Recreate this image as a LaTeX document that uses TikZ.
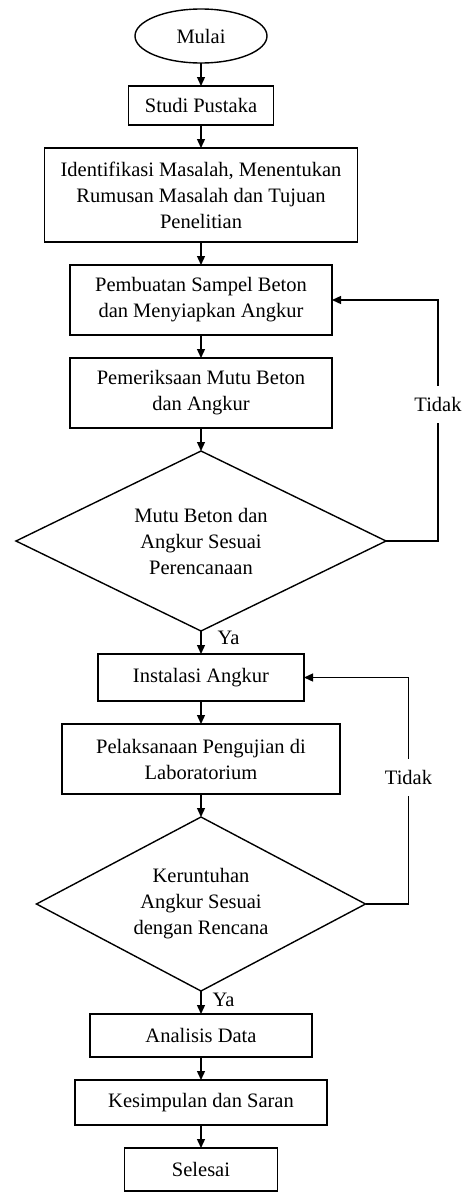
\documentclass[tikz,border=0pt]{standalone}
\usepackage{fontspec}
\setmainfont{Liberation Serif}
\usetikzlibrary{arrows.meta, positioning, shapes.geometric}

\begin{document}
\begin{tikzpicture}[
x=1pt, y=1pt,
node distance=23pt,
font=\fontsize{20.5}{26}\selectfont,
box/.style={draw, line width=1.4pt, align=center, inner sep=2pt, outer sep=0pt},
decision/.style={draw, diamond, aspect=2, line width=1.4pt, align=center, inner sep=0pt, outer sep=0pt},
startstop/.style={draw, ellipse, line width=1.4pt, inner sep=0pt, outer sep=0pt},
arrow/.style={-{Triangle[length=9pt, width=8pt]}, line width=1.3pt},
lbl/.style={fill=white, inner xsep=2pt, inner ysep=11pt}
]
\useasboundingbox (0,0) rectangle (461,-1192);

\node[startstop, minimum width=132, minimum height=54] (mulai) at (201,-36) {Mulai};
\node[box, below=of mulai, minimum width=145, minimum height=39] (studi) {Studi Pustaka};
\node[box, below=of studi, minimum width=313, minimum height=94] (identifikasi) {Identifikasi Masalah, Menentukan\\Rumusan Masalah dan Tujuan\\Penelitian};
\node[box, below=of identifikasi, minimum width=262, minimum height=70] (sampel) {Pembuatan Sampel Beton\\dan Menyiapkan Angkur};
\node[box, below=of sampel, minimum width=262, minimum height=70] (periksa) {Pemeriksaan Mutu Beton\\dan Angkur};
\node[decision, below=of periksa, minimum width=370, minimum height=180] (cekmutu) {Mutu Beton dan\\Angkur Sesuai\\Perencanaan};
\node[box, below=of cekmutu, minimum width=206, minimum height=47] (instalasi) {Instalasi Angkur};
\node[box, below=of instalasi, minimum width=278, minimum height=70] (uji) {Pelaksanaan Pengujian di\\Laboratorium};
\node[decision, below=of uji, minimum width=329, minimum height=174] (cekruntuh) {Keruntuhan\\Angkur Sesuai\\dengan Rencana};
\node[box, below=of cekruntuh, minimum width=222, minimum height=43] (analisis) {Analisis Data};
\node[box, below=of analisis, minimum width=252, minimum height=45] (kesimpulan) {Kesimpulan dan Saran};
\node[box, below=of kesimpulan, minimum width=153, minimum height=43] (selesai) {Selesai};

\draw[arrow] (mulai) -- (studi);
\draw[arrow] (studi) -- (identifikasi);
\draw[arrow] (identifikasi) -- (sampel);
\draw[arrow] (sampel) -- (periksa);
\draw[arrow] (periksa) -- (cekmutu);
\draw[arrow] (cekmutu) -- node[pos=0.3, right, xshift=14pt, inner sep=2pt] {Ya} (instalasi);
\draw[arrow] (instalasi) -- (uji);
\draw[arrow] (uji) -- (cekruntuh);
\draw[arrow] (cekruntuh) -- node[pos=0.4, right, xshift=9pt, inner sep=2pt] {Ya} (analisis);
\draw[arrow] (analisis) -- (kesimpulan);
\draw[arrow] (kesimpulan) -- (selesai);

% loop kembali jika tidak sesuai
\draw[arrow] (cekmutu.east) -- ++(52,0) |- node[pos=0.283, lbl] {Tidak} (sampel.east);
\draw[arrow] (cekruntuh.east) -- ++(43,0) |- node[pos=0.279, lbl] {Tidak} (instalasi.east);

\end{tikzpicture}
\end{document}
